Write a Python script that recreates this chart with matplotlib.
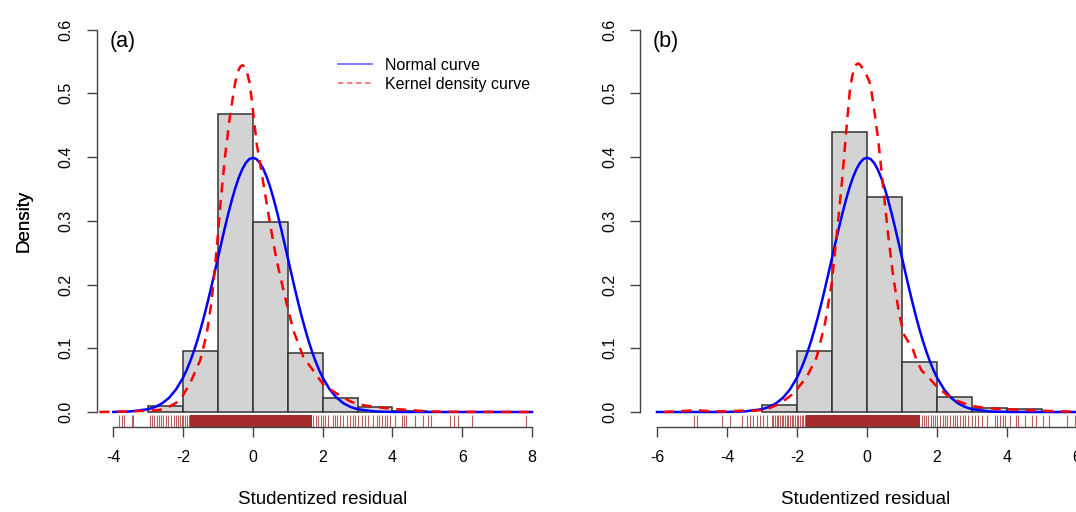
import matplotlib.pyplot as plt
from matplotlib.lines import Line2D

plt.rcParams["font.family"] = ["Liberation Sans", "DejaVu Sans"]
plt.rcParams["axes.unicode_minus"] = False

# histogram (density per unit bin)
bin_edges = [-3, -2, -1, 0, 1, 2, 3, 4, 5]
dens_a = [0.010, 0.095, 0.468, 0.298, 0.092, 0.022, 0.008, 0.002]
dens_b = [0.011, 0.095, 0.440, 0.337, 0.079, 0.024, 0.006, 0.004]

# normal curve
norm_x = [-6, -5, -4, -3.5, -3, -2.8, -2.6, -2.4, -2.2,
          -2.0, -1.9, -1.8, -1.7, -1.6, -1.5, -1.4, -1.3, -1.2, -1.1, -1.0,
          -0.9, -0.8, -0.7, -0.6, -0.5, -0.4, -0.3, -0.2, -0.1, 0.0,
          0.1, 0.2, 0.3, 0.4, 0.5, 0.6, 0.7, 0.8, 0.9, 1.0,
          1.1, 1.2, 1.3, 1.4, 1.5, 1.6, 1.7, 1.8, 1.9, 2.0,
          2.2, 2.4, 2.6, 2.8, 3.0, 3.5, 4.0, 5.0, 6.0, 7.0, 8.0]
norm_y = [0.0, 0.0, 0.0001, 0.0009, 0.0044, 0.0079, 0.0136, 0.0224, 0.0355,
          0.0540, 0.0656, 0.0790, 0.0940, 0.1109, 0.1295, 0.1497, 0.1714, 0.1942, 0.2179, 0.2420,
          0.2661, 0.2897, 0.3123, 0.3332, 0.3521, 0.3683, 0.3814, 0.3910, 0.3970, 0.3989,
          0.3970, 0.3910, 0.3814, 0.3683, 0.3521, 0.3332, 0.3123, 0.2897, 0.2661, 0.2420,
          0.2179, 0.1942, 0.1714, 0.1497, 0.1295, 0.1109, 0.0940, 0.0790, 0.0656, 0.0540,
          0.0355, 0.0224, 0.0136, 0.0079, 0.0044, 0.0009, 0.0001, 0.0, 0.0, 0.0, 0.0]

# kernel density curves
kde_a_x = [-4.4, -3.5, -3.0, -2.7, -2.47, -2.09, -1.80, -1.51, -1.32, -1.18, -1.04, -0.92,
           -0.80, -0.66, -0.51, -0.45, -0.39, -0.34, -0.29, -0.24, -0.18, -0.10, -0.03,
           0.11, 0.30, 0.49, 0.68, 0.92, 1.16, 1.45, 1.73, 2.02, 2.40, 2.78, 3.0, 3.5, 4.0,
           4.5, 5.0, 5.5, 6.0, 7.0, 8.0]
kde_a_y = [0.0, 0.001, 0.002, 0.003, 0.006, 0.018, 0.045, 0.081, 0.123, 0.175, 0.254, 0.332,
           0.400, 0.463, 0.516, 0.530, 0.539, 0.543, 0.544, 0.542, 0.536, 0.518, 0.489,
           0.421, 0.359, 0.296, 0.238, 0.181, 0.128, 0.086, 0.065, 0.043, 0.029, 0.017,
           0.012, 0.008, 0.005, 0.003, 0.001, 0.0005, 0.0003, 0.0002, 0.0]
kde_b_x = [-5.8, -5.5, -5.1, -4.9, -4.7, -4.3, -4.0, -3.6, -3.2, -2.87, -2.49, -2.10, -1.72,
           -1.44, -1.20, -1.01, -0.87, -0.72, -0.60, -0.49, -0.43, -0.37, -0.31, -0.25,
           -0.18, -0.10, 0.0, 0.07, 0.12, 0.18, 0.32, 0.47, 0.61, 0.75, 0.90, 1.04, 1.18,
           1.30, 1.42, 1.56, 1.75, 1.99, 2.28, 2.56, 2.94, 3.3, 3.7, 4.1, 4.5, 5.0, 5.5,
           6.0, 6.5]
kde_b_y = [0.0, 0.001, 0.002, 0.003, 0.002, 0.001, 0.001, 0.002, 0.002, 0.004, 0.013, 0.029,
           0.055, 0.086, 0.139, 0.202, 0.275, 0.359, 0.437, 0.505, 0.525, 0.539, 0.545,
           0.547, 0.544, 0.536, 0.527, 0.518, 0.505, 0.484, 0.427, 0.348, 0.275, 0.212,
           0.160, 0.123, 0.110, 0.100, 0.081, 0.065, 0.055, 0.040, 0.027, 0.018, 0.010,
           0.007, 0.005, 0.004, 0.003, 0.002, 0.001, 0.0005, 0.0]

# rug: single residuals outside the dense middle, dense middle as a range
rug_a = [-3.84, -3.76, -3.68, -3.47, -3.43, -2.95, -2.88, -2.82, -2.76, -2.69, -2.63, -2.57,
         -2.50, -2.42, -2.36, -2.26, -2.20, -2.15, -2.09, -2.04, -1.99, -1.94, -1.88, -1.82,
         1.73, 1.81, 1.88, 1.94, 2.00, 2.07, 2.16, 2.29, 2.35, 2.42, 2.50, 2.57, 2.69, 2.78,
         2.86, 2.93, 3.02, 3.12, 3.21, 3.31, 3.45, 3.55, 3.62, 3.69, 3.79, 3.85, 3.93, 4.07,
         4.27, 4.33, 4.39, 4.65, 4.87, 5.03, 5.10, 5.65, 5.77, 5.89, 6.27, 7.82]
rug_a_dense = [-1.80, 1.69]
rug_b = [-4.93, -4.87, -4.15, -3.91, -3.58, -3.44, -3.34, -3.25, -3.15, -3.06, -2.98, -2.87,
         -2.72, -2.68, -2.63, -2.58, -2.53, -2.49, -2.44, -2.39, -2.34, -2.29, -2.25, -2.20,
         -2.15, -2.11, -2.06, -2.01, -1.96, -1.91, -1.87, -1.82, -1.77, 1.56, 1.63, 1.69,
         1.75, 1.82, 1.88, 1.94, 2.01, 2.09, 2.16, 2.23, 2.29, 2.37, 2.45, 2.51, 2.58, 2.66,
         2.73, 2.80, 2.89, 2.99, 3.09, 3.18, 3.28, 3.42, 3.66, 3.70, 3.80, 3.88, 3.94, 4.09,
         4.26, 4.32, 4.51, 4.70, 4.83, 5.04, 5.21, 5.72, 5.94]
rug_b_dense = [-1.75, 1.51]

W, H = 1076, 512
fig = plt.figure(figsize=(W / 100, H / 100), dpi=100)

ylo, yhi = -0.024, 0.624
rug_top = ylo + 0.03 * (yhi - ylo)
brown = "#A52A2A"

panels = [
    dict(left=96.7, xlim=(-4.476, 8.479), xticks=range(-4, 9, 2), tag="(a)",
         dens=dens_a, kx=kde_a_x, ky=kde_a_y, nlo=-4, nhi=8, rug=rug_a,
         dense=rug_a_dense, legend=True),
    dict(left=640.0, xlim=(-6.486, 6.428), xticks=range(-6, 7, 2), tag="(b)",
         dens=dens_b, kx=kde_b_x, ky=kde_b_y, nlo=-6, nhi=8, rug=rug_b,
         dense=rug_b_dense, legend=False),
]

for p in panels:
    ax = fig.add_axes([p["left"] / W, (H - 427.3) / H, 452 / W, 413 / H])
    ax.set_xlim(*p["xlim"])
    ax.set_ylim(ylo, yhi)

    widths = [bin_edges[i + 1] - bin_edges[i] for i in range(len(p["dens"]))]
    ax.bar(bin_edges[:-1], p["dens"], width=widths, align="edge",
           color="#D3D3D3", edgecolor="#333333", linewidth=1.1, zorder=1)

    nx = [x for x in norm_x if p["nlo"] <= x <= p["nhi"]]
    ny = [y for x, y in zip(norm_x, norm_y) if p["nlo"] <= x <= p["nhi"]]
    ax.plot(nx, ny, color="#0000FF", lw=1.8, zorder=3)
    ax.plot(p["kx"], p["ky"], color="#FF0000", lw=1.8, dashes=(4, 3), zorder=4)

    ax.vlines(p["rug"], ylo, rug_top, color=brown, lw=0.8, alpha=0.75, zorder=2)
    ax.fill_between(p["dense"], ylo, rug_top, color=brown, lw=0, zorder=2)

    for s in ("top", "right"):
        ax.spines[s].set_visible(False)
    ax.spines["left"].set_bounds(0, 0.6)
    ax.spines["bottom"].set_bounds(min(p["xticks"]), max(p["xticks"]))
    for s in ("left", "bottom"):
        ax.spines[s].set_color("#444444")
        ax.spines[s].set_linewidth(1.0)

    ax.set_xticks(list(p["xticks"]))
    ax.set_yticks([0.0, 0.1, 0.2, 0.3, 0.4, 0.5, 0.6])
    ax.set_yticklabels(["0.0", "0.1", "0.2", "0.3", "0.4", "0.5", "0.6"])
    ax.tick_params(axis="both", direction="out", length=7.5, width=1.0,
                   color="#444444", labelsize=11.5)
    ax.tick_params(axis="x", pad=9)
    ax.tick_params(axis="y", pad=9, labelrotation=90)
    for lab in ax.get_yticklabels():
        lab.set_verticalalignment("center")

    ax.set_xlabel("Studentized residual", fontsize=13.5)
    ax.xaxis.set_label_coords(0.5, (427.3 - 500) / 413)
    ax.xaxis.label.set_verticalalignment("center")
    ax.set_ylabel("Density", fontsize=13.5)
    ax.yaxis.set_label_coords((24 - p["left"]) / 452, 0.5)
    ax.yaxis.label.set_verticalalignment("center")

    ax.text(13.0 / 452, (427.3 - 42) / 413, p["tag"], transform=ax.transAxes,
            fontsize=15.5, ha="left", va="center")

    if p["legend"]:
        handles = [Line2D([], [], color="#0000FF", lw=1.3, alpha=0.55),
                   Line2D([], [], color="#FF0000", lw=1.3, alpha=0.55, dashes=(3, 2))]
        ax.legend(handles, ["Normal curve", "Kernel density curve"], frameon=False,
                  loc="upper left", bbox_to_anchor=((338 - p["left"]) / 452, (427.3 - 58) / 413),
                  borderpad=0, borderaxespad=0, fontsize=11.5, handlelength=2.1,
                  handletextpad=0.85, labelspacing=0.25)

fig.savefig("out.png", dpi=100)
